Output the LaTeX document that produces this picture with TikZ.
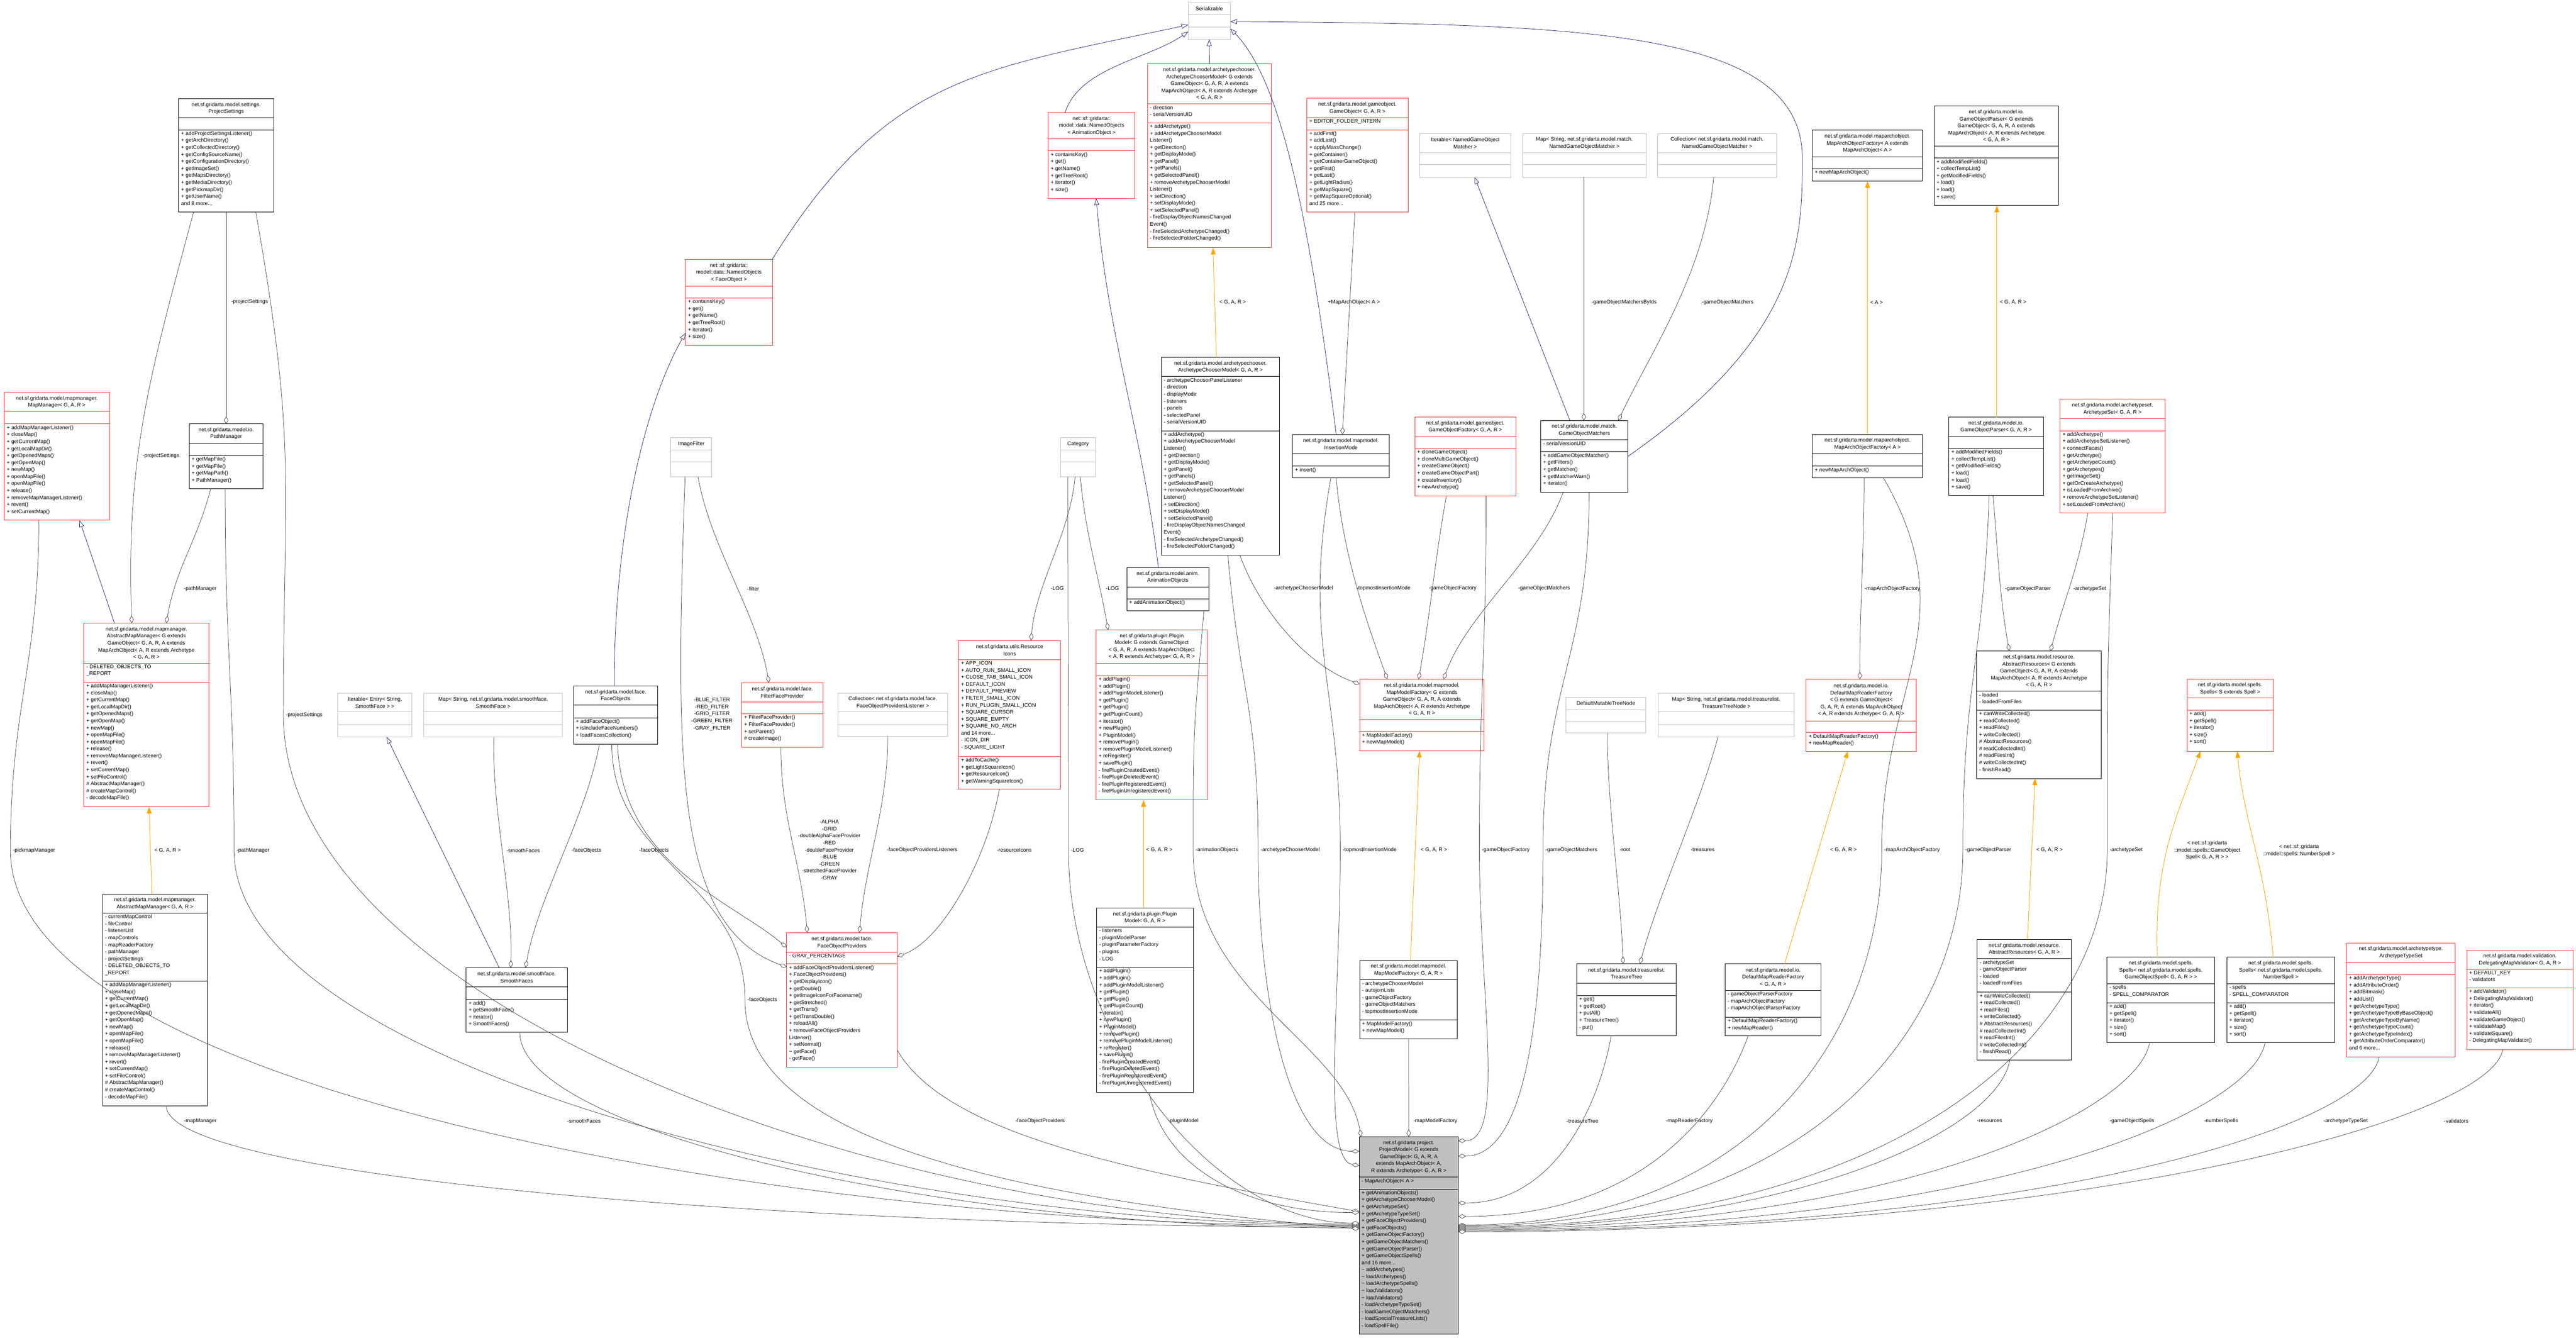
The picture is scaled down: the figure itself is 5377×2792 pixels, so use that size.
\documentclass[tikz,border=0pt]{standalone}
\usepackage{fontspec}
\setmainfont{Liberation Sans}
\usetikzlibrary{arrows.meta}
\definecolor{edg}{HTML}{404040}
\definecolor{navyb}{HTML}{191970}
\definecolor{orng}{HTML}{FFA500}
\definecolor{redl}{HTML}{FF3030}
\definecolor{grl}{HTML}{BFBFBF}
\definecolor{pmfill}{HTML}{BFBFBF}
\newcommand\fs{\fontsize{11}{14.6}\selectfont}
\tikzset{
 blk/.style={draw=black,line width=1pt,inner sep=0,outer sep=0},
 redb/.style={draw=redl,line width=1pt,inner sep=0,outer sep=0},
 grayb/.style={draw=grl,line width=1pt,inner sep=0,outer sep=0},
 pmb/.style={draw=black,fill=pmfill,line width=1pt,inner sep=0,outer sep=0},
 ttl/.style={font=\fs,align=center,inner sep=0},
 mem/.style={font=\fs,align=left,inner sep=1pt},
 lbl/.style={font=\fs,align=center,inner sep=1pt},
 agg/.style={draw=edg,line width=0.8pt,-{Diamond[open,length=16pt,width=9pt,fill=white]}},
 inh/.style={draw=navyb,line width=0.8pt,-{Triangle[open,length=14pt,width=10pt,fill=white]}},
 tmpl/.style={draw=orng,line width=1pt,-{Triangle[length=14pt,width=10pt,fill=orng]}},
}
\newcommand\uml[9]{%
 \node[#1,anchor=north west,minimum width={(#5-#3)*1pt},minimum height={(#6-#4)*1pt}] (#2) at (#3,#4) {};
 \draw[#1] (#3,#7) -- (#5,#7) (#3,#8) -- (#5,#8);
 \node[ttl] (#2-t) at ({(#3+#5)/2},{(#4+#7)/2}) {#9};
 \def\ux{#3}\def\uay{#8}\def\uty{#7}\def\uname{#2}}
\newcommand\attrs[1]{\node[mem,anchor=north west] (\uname-a) at (\ux+4,\uty+2) {#1};}
\newcommand\meths[1]{\node[mem,anchor=north west] (\uname-m) at (\ux+4,\uay+2) {#1};}
\begin{document}
\begin{tikzpicture}[x=1pt,y=-1pt]
\useasboundingbox[fill=white] (0,0) rectangle (5377,2792);

\uml{blk}{PS}{373}{206}{571}{443}{246}{271}{net.sf.gridarta.model.settings.\\ProjectSettings}
\meths{+ addProjectSettingsListener()\\+ getArchDirectory()\\+ getCollectedDirectory()\\+ getConfigSourceName()\\+ getConfigurationDirectory()\\+ getImageSet()\\+ getMapsDirectory()\\+ getMediaDirectory()\\+ getPickmapDir()\\+ getUserName()\\and 8 more...}

\uml{redb}{MM}{9}{819}{228}{1086}{859}{885}{net.sf.gridarta.model.mapmanager.\\MapManager< G, A, R >}
\meths{+ addMapManagerListener()\\+ closeMap()\\+ getCurrentMap()\\+ getLocalMapDir()\\+ getOpenedMaps()\\+ getOpenMap()\\+ newMap()\\+ openMapFile()\\+ openMapFile()\\+ release()\\+ removeMapManagerListener()\\+ revert()\\+ setCurrentMap()}

\uml{blk}{PathM}{395}{885}{549}{1020}{925}{951}{net.sf.gridarta.model.io.\\PathManager}
\meths{+ getMapFile()\\+ getMapFile()\\+ getMapPath()\\+ PathManager()}

\uml{redb}{NOF}{1431}{541}{1612}{721}{597}{622}{net::sf::gridarta::\\model::data::NamedObjects\\< FaceObject >}
\meths{+ containsKey()\\+ get()\\+ getName()\\+ getTreeRoot()\\+ iterator()\\+ size()}

\uml{grayb}{Ser}{2480}{6}{2568}{82}{31}{56}{Serializable}

\uml{redb}{NOA}{2188}{235}{2369}{414}{290}{315}{net::sf::gridarta::\\model::data::NamedObjects\\< AnimationObject >}
\meths{+ containsKey()\\+ get()\\+ getName()\\+ getTreeRoot()\\+ iterator()\\+ size()}

\uml{redb}{ACMx}{2395}{133}{2654}{517}{217}{256}{net.sf.gridarta.model.archetypechooser.\\ArchetypeChooserModel< G extends\\GameObject< G, A, R, A extends\\MapArchObject< A, R extends Archetype\\< G, A, R >}
\attrs{- direction\\- serialVersionUID}
\meths{+ addArchetype()\\+ addArchetypeChooserModel\\Listener()\\+ getDirection()\\+ getDisplayMode()\\+ getPanel()\\+ getPanels()\\+ getSelectedPanel()\\+ removeArchetypeChooserModel\\Listener()\\+ setDirection()\\+ setDisplayMode()\\+ setSelectedPanel()\\- fireDisplayObjectNamesChanged\\Event()\\- fireSelectedArchetypeChanged()\\- fireSelectedFolderChanged()}

\uml{redb}{GO}{2728}{205}{2939}{443}{246}{271}{net.sf.gridarta.model.gameobject.\\GameObject< G, A, R >}
\attrs{+ EDITOR\_FOLDER\_INTERN}
\meths{+ addFirst()\\+ addLast()\\+ applyMassChange()\\+ getContainer()\\+ getContainerGameObject()\\+ getFirst()\\+ getLast()\\+ getLightRadius()\\+ getMapSquare()\\+ getMapSquareOptional()\\and 25 more...}

\uml{blk}{ACMg}{2424}{746}{2671}{1159}{786}{899}{net.sf.gridarta.model.archetypechooser.\\ArchetypeChooserModel< G, A, R >}
\attrs{- archetypeChooserPanelListener\\- direction\\- displayMode\\- listeners\\- panels\\- selectedPanel\\- serialVersionUID}
\meths{+ addArchetype()\\+ addArchetypeChooserModel\\Listener()\\+ getDirection()\\+ getDisplayMode()\\+ getPanel()\\+ getPanels()\\+ getSelectedPanel()\\+ removeArchetypeChooserModel\\Listener()\\+ setDirection()\\+ setDisplayMode()\\+ setSelectedPanel()\\- fireDisplayObjectNamesChanged\\Event()\\- fireSelectedArchetypeChanged()\\- fireSelectedFolderChanged()}

\uml{blk}{IM}{2698}{907}{2900}{997}{947}{973}{net.sf.gridarta.model.mapmodel.\\InsertionMode}
\meths{+ insert()}

\uml{grayb}{IF}{1400}{914}{1486}{995}{939}{964}{ImageFilter}
\uml{grayb}{Cat}{2214}{914}{2287}{995}{939}{964}{Category}
\uml{grayb}{ItN}{2963}{279}{3154}{370}{319}{344}{Iterable< NamedGameObject\\Matcher >}
\uml{grayb}{MapN}{3178}{279}{3436}{370}{319}{344}{Map< String, net.sf.gridarta.model.match.\\NamedGameObjectMatcher >}
\uml{grayb}{ColN}{3460}{279}{3708}{370}{319}{344}{Collection< net.sf.gridarta.model.match.\\NamedGameObjectMatcher >}

\uml{blk}{MAOFx}{3783}{272}{4013}{378}{327}{352}{net.sf.gridarta.model.maparchobject.\\MapArchObjectFactory< A extends\\MapArchObject< A >}
\meths{+ newMapArchObject()}

\uml{blk}{GOPx}{4037}{221}{4297}{429}{305}{330}{net.sf.gridarta.model.io.\\GameObjectParser< G extends\\GameObject< G, A, R, A extends\\MapArchObject< A, R extends Archetype\\< G, A, R >}
\meths{+ addModifiedFields()\\+ collectTempList()\\+ getModifiedFields()\\+ load()\\+ load()\\+ save()}

\uml{redb}{GOF}{2953}{871}{3164}{1035}{911}{936}{net.sf.gridarta.model.gameobject.\\GameObjectFactory< G, A, R >}
\meths{+ cloneGameObject()\\+ cloneMultiGameObject()\\+ createGameObject()\\+ createGameObjectPart()\\+ createInventory()\\+ newArchetype()}

\uml{blk}{GOM}{3216}{878}{3398}{1027}{918}{943}{net.sf.gridarta.model.match.\\GameObjectMatchers}
\attrs{- serialVersionUID}
\meths{+ addGameObjectMatcher()\\+ getFilters()\\+ getMatcher()\\+ getMatcherWarn()\\+ iterator()}

\uml{blk}{MAOFg}{3783}{907}{4013}{997}{947}{973}{net.sf.gridarta.model.maparchobject.\\MapArchObjectFactory< A >}
\meths{+ newMapArchObject()}

\uml{blk}{GOPg}{4068}{871}{4265}{1034}{911}{936}{net.sf.gridarta.model.io.\\GameObjectParser< G, A, R >}
\meths{+ addModifiedFields()\\+ collectTempList()\\+ getModifiedFields()\\+ load()\\+ load()\\+ save()}

\uml{redb}{AS}{4300}{833}{4519}{1071}{874}{899}{net.sf.gridarta.model.archetypeset.\\ArchetypeSet< G, A, R >}
\meths{+ addArchetype()\\+ addArchetypeSetListener()\\+ connectFaces()\\+ getArchetype()\\+ getArchetypeCount()\\+ getArchetypes()\\+ getImageSet()\\+ getOrCreateArchetype()\\+ isLoadedFromArchive()\\+ removeArchetypeSetListener()\\+ setLoadedFromArchive()}

\uml{redb}{AMMx}{175}{1301}{436}{1684}{1384}{1424}{net.sf.gridarta.model.mapmanager.\\AbstractMapManager< G extends\\GameObject< G, A, R, A extends\\MapArchObject< A, R extends Archetype\\< G, A, R >}
\attrs{- DELETED\_OBJECTS\_TO\\\_REPORT}
\meths{+ addMapManagerListener()\\+ closeMap()\\+ getCurrentMap()\\+ getLocalMapDir()\\+ getOpenedMaps()\\+ getOpenMap()\\+ newMap()\\+ openMapFile()\\+ openMapFile()\\+ release()\\+ removeMapManagerListener()\\+ revert()\\+ setCurrentMap()\\+ setFileControl()\\\# AbstractMapManager()\\\# createMapControl()\\- decodeMapFile()}

\uml{blk}{AMMg}{214}{1866}{433}{2308}{1906}{2048}{net.sf.gridarta.model.mapmanager.\\AbstractMapManager< G, A, R >}
\attrs{- currentMapControl\\- fileControl\\- listenerList\\- mapControls\\- mapReaderFactory\\- pathManager\\- projectSettings\\- DELETED\_OBJECTS\_TO\\\_REPORT}
\meths{+ addMapManagerListener()\\+ closeMap()\\+ getCurrentMap()\\+ getLocalMapDir()\\+ getOpenedMaps()\\+ getOpenMap()\\+ newMap()\\+ openMapFile()\\+ openMapFile()\\+ release()\\+ removeMapManagerListener()\\+ revert()\\+ setCurrentMap()\\+ setFileControl()\\\# AbstractMapManager()\\\# createMapControl()\\- decodeMapFile()}

\uml{grayb}{IE}{705}{1447}{860}{1538}{1486}{1512}{Iterable< Entry< String,\\SmoothFace > >}
\uml{grayb}{MapSF}{885}{1447}{1174}{1538}{1486}{1512}{Map< String, net.sf.gridarta.model.smoothface.\\SmoothFace >}

\uml{blk}{FO}{1197}{1432}{1373}{1553}{1472}{1498}{net.sf.gridarta.model.face.\\FaceObjects}
\meths{+ addFaceObject()\\+ isIncludeFaceNumbers()\\+ loadFacesCollection()}

\uml{redb}{FFP}{1548}{1425}{1718}{1560}{1465}{1490}{net.sf.gridarta.model.face.\\FilterFaceProvider}
\meths{+ FilterFaceProvider()\\+ FilterFaceProvider()\\+ setParent()\\\# createImage()}

\uml{blk}{SF}{973}{2020}{1184}{2155}{2060}{2086}{net.sf.gridarta.model.smoothface.\\SmoothFaces}
\meths{+ add()\\+ getSmoothFace()\\+ iterator()\\+ SmoothFaces()}

\uml{redb}{FOP}{1642}{1947}{1873}{2228}{1988}{2012}{net.sf.gridarta.model.face.\\FaceObjectProviders}
\attrs{- GRAY\_PERCENTAGE}
\meths{+ addFaceObjectProvidersListener()\\+ FaceObjectProviders()\\+ getDisplayIcon()\\+ getDouble()\\+ getImageIconForFacename()\\+ getStretched()\\+ getTrans()\\+ getTransDouble()\\+ reloadAll()\\+ removeFaceObjectProviders\\Listener()\\+ setNormal()\\\textasciitilde{} getFace()\\- getFace()}

\uml{grayb}{ColF}{1749}{1447}{1978}{1537}{1486}{1512}{Collection< net.sf.gridarta.model.face.\\FaceObjectProvidersListener >}

\uml{redb}{RI}{2001}{1337}{2214}{1647}{1377}{1579}{net.sf.gridarta.utils.Resource\\Icons}
\attrs{+ APP\_ICON\\+ AUTO\_RUN\_SMALL\_ICON\\+ CLOSE\_TAB\_SMALL\_ICON\\+ DEFAULT\_ICON\\+ DEFAULT\_PREVIEW\\+ FILTER\_SMALL\_ICON\\+ RUN\_PLUGIN\_SMALL\_ICON\\+ SQUARE\_CURSOR\\+ SQUARE\_EMPTY\\+ SQUARE\_NO\_ARCH\\and 14 more...\\- ICON\_DIR\\- SQUARE\_LIGHT}
\meths{+ addToCache()\\+ getLightSquareIcon()\\+ getResourceIcon()\\+ getWarningSquareIcon()}

\uml{redb}{PMx}{2288}{1315}{2520}{1670}{1384}{1410}{net.sf.gridarta.plugin.Plugin\\Model< G extends GameObject\\< G, A, R, A extends MapArchObject\\< A, R extends Archetype< G, A, R >}
\meths{+ addPlugin()\\+ addPlugin()\\+ addPluginModelListener()\\+ getPlugin()\\+ getPlugin()\\+ getPluginCount()\\+ iterator()\\+ newPlugin()\\+ PluginModel()\\+ removePlugin()\\+ removePluginModelListener()\\+ reRegister()\\+ savePlugin()\\- firePluginCreatedEvent()\\- firePluginDeletedEvent()\\- firePluginRegisteredEvent()\\- firePluginUnregisteredEvent()}

\uml{blk}{AO}{2352}{1185}{2523}{1275}{1225}{1250}{net.sf.gridarta.model.anim.\\AnimationObjects}
\meths{+ addAnimationObject()}

\uml{redb}{MMFx}{2838}{1418}{3098}{1567}{1502}{1527}{net.sf.gridarta.model.mapmodel.\\MapModelFactory< G extends\\GameObject< G, A, R, A extends\\MapArchObject< A, R extends Archetype\\< G, A, R >}
\meths{+ MapModelFactory()\\+ newMapModel()}

\uml{grayb}{DMTN}{3269}{1455}{3435}{1530}{1481}{1506}{DefaultMutableTreeNode}
\uml{grayb}{MapT}{3461}{1447}{3745}{1538}{1486}{1512}{Map< String, net.sf.gridarta.model.treasurelist.\\TreasureTreeNode >}

\uml{blk}{PMg}{2289}{1895}{2491}{2280}{1935}{2019}{net.sf.gridarta.plugin.Plugin\\Model< G, A, R >}
\attrs{- listeners\\- pluginModelParser\\- pluginParameterFactory\\- plugins\\- LOG}
\meths{+ addPlugin()\\+ addPlugin()\\+ addPluginModelListener()\\+ getPlugin()\\+ getPlugin()\\+ getPluginCount()\\+ iterator()\\+ newPlugin()\\+ PluginModel()\\+ removePlugin()\\+ removePluginModelListener()\\+ reRegister()\\+ savePlugin()\\- firePluginCreatedEvent()\\- firePluginDeletedEvent()\\- firePluginRegisteredEvent()\\- firePluginUnregisteredEvent()}

\uml{blk}{MMFg}{2838}{2005}{3042}{2169}{2045}{2129}{net.sf.gridarta.model.mapmodel.\\MapModelFactory< G, A, R >}
\attrs{- archetypeChooserModel\\- autojoinLists\\- gameObjectFactory\\- gameObjectMatchers\\- topmostInsertionMode}
\meths{+ MapModelFactory()\\+ newMapModel()}

\uml{blk}{TT}{3291}{2012}{3499}{2162}{2052}{2078}{net.sf.gridarta.model.treasurelist.\\TreasureTree}
\meths{+ get()\\+ getRoot()\\+ putAll()\\+ TreasureTree()\\- put()}

\uml{pmb}{PM}{2837}{2373}{3044}{2785}{2457}{2482}{net.sf.gridarta.project.\\ProjectModel< G extends\\GameObject< G, A, R, A\\extends MapArchObject< A,\\R extends Archetype< G, A, R >}
\attrs{- MapArchObject< A >}
\meths{+ getAnimationObjects()\\+ getArchetypeChooserModel()\\+ getArchetypeSet()\\+ getArchetypeTypeSet()\\+ getFaceObjectProviders()\\+ getFaceObjects()\\+ getGameObjectFactory()\\+ getGameObjectMatchers()\\+ getGameObjectParser()\\+ getGameObjectSpells()\\and 16 more...\\\textasciitilde{} addArchetypes()\\\textasciitilde{} loadArchetypes()\\\textasciitilde{} loadArchetypeSpells()\\\textasciitilde{} loadValidators()\\\textasciitilde{} loadValidators()\\- loadArchetypeTypeSet()\\- loadGameObjectMatchers()\\- loadSpecialTreasureLists()\\- loadSpellFile()}

\uml{redb}{DMRFx}{3770}{1418}{4000}{1568}{1505}{1529}{net.sf.gridarta.model.io.\\DefaultMapReaderFactory\\< G extends GameObject<\\G, A, R, A extends MapArchObject\\< A, R extends Archetype< G, A, R >}
\meths{+ DefaultMapReaderFactory()\\+ newMapReader()}

\uml{blk}{ARx}{4126}{1359}{4386}{1625}{1443}{1482}{net.sf.gridarta.model.resource.\\AbstractResources< G extends\\GameObject< G, A, R, A extends\\MapArchObject< A, R extends Archetype\\< G, A, R >}
\attrs{- loaded\\- loadedFromFiles}
\meths{+ canWriteCollected()\\+ readCollected()\\+ readFiles()\\+ writeCollected()\\\# AbstractResources()\\\# readCollectedInt()\\\# readFilesInt()\\\# writeCollectedInt()\\- finishRead()}

\uml{redb}{Sp}{4565}{1418}{4745}{1568}{1457}{1482}{net.sf.gridarta.model.spells.\\Spells< S extends Spell >}
\meths{+ add()\\+ getSpell()\\+ iterator()\\+ size()\\+ sort()}

\uml{blk}{DMRFg}{3601}{2012}{3801}{2162}{2067}{2123}{net.sf.gridarta.model.io.\\DefaultMapReaderFactory\\< G, A, R >}
\attrs{- gameObjectParserFactory\\- mapArchObjectFactory\\- mapArchObjectParserFactory}
\meths{+ DefaultMapReaderFactory()\\+ newMapReader()}

\uml{blk}{ARg}{4127}{1961}{4324}{2213}{2001}{2071}{net.sf.gridarta.model.resource.\\AbstractResources< G, A, R >}
\attrs{- archetypeSet\\- gameObjectParser\\- loaded\\- loadedFromFiles}
\meths{+ canWriteCollected()\\+ readCollected()\\+ readFiles()\\+ writeCollected()\\\# AbstractResources()\\\# readCollectedInt()\\\# readFilesInt()\\\# writeCollectedInt()\\- finishRead()}

\uml{blk}{SpG}{4398}{1998}{4623}{2176}{2053}{2093}{net.sf.gridarta.model.spells.\\Spells< net.sf.gridarta.model.spells.\\GameObjectSpell< G, A, R > >}
\attrs{- spells\\- SPELL\_COMPARATOR}
\meths{+ add()\\+ getSpell()\\+ iterator()\\+ size()\\+ sort()}

\uml{blk}{SpN}{4648}{1998}{4873}{2176}{2053}{2093}{net.sf.gridarta.model.spells.\\Spells< net.sf.gridarta.model.spells.\\NumberSpell >}
\attrs{- spells\\- SPELL\_COMPARATOR}
\meths{+ add()\\+ getSpell()\\+ iterator()\\+ size()\\+ sort()}

\uml{redb}{ATS}{4898}{1968}{5125}{2206}{2009}{2034}{net.sf.gridarta.model.archetypetype.\\ArchetypeTypeSet}
\meths{+ addArchetypeType()\\+ addAttributeOrder()\\+ addBitmask()\\+ addList()\\+ getArchetypeType()\\+ getArchetypeTypeByBaseObject()\\+ getArchetypeTypeByName()\\+ getArchetypeTypeCount()\\+ getArchetypeTypeIndex()\\+ getAttributeOrderComparator()\\and 6 more...}

\uml{redb}{DMV}{5149}{1983}{5371}{2191}{2023}{2062}{net.sf.gridarta.model.validation.\\DelegatingMapValidator< G, A, R >}
\attrs{+ DEFAULT\_KEY\\- validators}
\meths{+ addValidator()\\+ DelegatingMapValidator()\\+ iterator()\\+ validateAll()\\+ validateGameObject()\\+ validateMap()\\+ validateSquare()\\- DelegatingMapValidator()}

% ---- labels
\node[lbl] (lPS1) at (521,630) {-projectSettings};
\node[lbl] (lPS2) at (336,952) {-projectSettings};
\node[lbl] (lPS3) at (635,1492) {-projectSettings};
\node[lbl] (lPath1) at (418,1229) {-pathManager};
\node[lbl] (lPath2) at (528,1775) {-pathManager};
\node[lbl] (lPick) at (71,1775) {-pickmapManager};
\node[lbl] (lAMM) at (350,1775) {< G, A, R >};
\node[lbl] (lMapM) at (418,2340) {-mapManager};
\node[lbl] (lFilter) at (1572,1229) {-filter};
\node[lbl] (lFilters) at (1486,1491) {-BLUE\_FILTER\\-RED\_FILTER\\-GRID\_FILTER\\-GREEN\_FILTER\\-GRAY\_FILTER};
\node[lbl] (lAlpha) at (1731,1774) {-ALPHA\\-GRID\\-doubleAlphaFaceProvider\\-RED\\-doubleFaceProvider\\-BLUE\\-GREEN\\-stretchedFaceProvider\\-GRAY};
\node[lbl] (lSF1) at (1092,1775) {-smoothFaces};
\node[lbl] (lFO1) at (1224,1775) {-faceObjects};
\node[lbl] (lFO2) at (1365,1775) {-faceObjects};
\node[lbl] (lFO3) at (1591,2087) {-faceObjects};
\node[lbl] (lSF2) at (1219,2340) {-smoothFaces};
\node[lbl] (lFOPL) at (1925,1774) {-faceObjectProvidersListeners};
\node[lbl] (lRI) at (2117,1774) {-resourceIcons};
\node[lbl] (lLOG1) at (2207,1228) {-LOG};
\node[lbl] (lLOG2) at (2322,1228) {-LOG};
\node[lbl] (lLOG3) at (2249,1774) {-LOG};
\node[lbl] (lPMt) at (2420,1774) {< G, A, R >};
\node[lbl] (lAO) at (2540,1774) {-animationObjects};
\node[lbl] (lACM1) at (2721,1228) {-archetypeChooserModel};
\node[lbl] (lACM2) at (2693,1774) {-archetypeChooserModel};
\node[lbl] (lTIM1) at (2888,1228) {-topmostInsertionMode};
\node[lbl] (lTIM2) at (2859,1774) {-topmostInsertionMode};
\node[lbl] (lMMFt) at (2993,1774) {< G, A, R >};
\node[lbl] (lGOF1) at (3032,1228) {-gameObjectFactory};
\node[lbl] (lGOF2) at (3143,1774) {-gameObjectFactory};
\node[lbl] (lGOM1) at (3223,1228) {-gameObjectMatchers};
\node[lbl] (lGOM2) at (3280,1774) {-gameObjectMatchers};
\node[lbl] (lRoot) at (3392,1774) {-root};
\node[lbl] (lTreas) at (3554,1774) {-treasures};
\node[lbl] (lACMt) at (2573,631) {< G, A, R >};
\node[lbl] (lMAO) at (2826,631) {+MapArchObject< A >};
\node[lbl] (lGOMB) at (3390,631) {-gameObjectMatchersByIds};
\node[lbl] (lGOM3) at (3606,631) {-gameObjectMatchers};
\node[lbl] (lMAOFt) at (3917,631) {< A >};
\node[lbl] (lGOPt) at (4202,631) {< G, A, R >};
\node[lbl] (lMAOF1) at (3950,1229) {-mapArchObjectFactory};
\node[lbl] (lGOP1) at (4233,1229) {-gameObjectParser};
\node[lbl] (lAS1) at (4362,1229) {-archetypeSet};
\node[lbl] (lDMRFt) at (3848,1774) {< G, A, R >};
\node[lbl] (lMAOF2) at (3991,1774) {-mapArchObjectFactory};
\node[lbl] (lGOP2) at (4150,1774) {-gameObjectParser};
\node[lbl] (lARt) at (4278,1774) {< G, A, R >};
\node[lbl] (lAS2) at (4438,1774) {-archetypeSet};
\node[lbl] (lSpG) at (4607,1775) {< net::sf::gridarta\\::model::spells::GameObject\\Spell< G, A, R > >};
\node[lbl] (lSpN) at (4799,1775) {< net::sf::gridarta\\::model::spells::NumberSpell >};
\node[lbl] (lFOP) at (2171,2340) {-faceObjectProviders};
\node[lbl] (lPlug) at (2470,2340) {-pluginModel};
\node[lbl] (lMMF) at (2996,2340) {-mapModelFactory};
\node[lbl] (lTT) at (3303,2340) {-treasureTree};
\node[lbl] (lMRF) at (3526,2340) {-mapReaderFactory};
\node[lbl] (lRes) at (4153,2340) {-resources};
\node[lbl] (lGOS) at (4450,2340) {-gameObjectSpells};
\node[lbl] (lNS) at (4636,2340) {-numberSpells};
\node[lbl] (lATS) at (4896,2340) {-archetypeTypeSet};
\node[lbl] (lVal) at (5127,2340) {-validators};
\coordinate (cg1) at (3762,330);

% ---- inheritance
\draw[inh] (NOF.north east) .. controls +(58:450pt) and +(192:450pt) .. ([yshift=-8pt]Ser.west);
\draw[inh] ([xshift=35pt]NOA.north west) .. controls +(72:100pt) and +(215:100pt) .. ([yshift=-22pt]Ser.west);
\draw[inh] (ACMx.north) -- (Ser.south);
\draw[inh] ([xshift=91pt]IM.north west) .. controls +(97:450pt) and +(-45:150pt) .. ([yshift=-16pt]Ser.east);
\draw[inh] (GOM.east) .. controls (3760,700) and (3762,500) .. (cg1) .. controls (3762,60) and (3300,50) .. ([yshift=-1pt]Ser.east);
\draw[inh] ([xshift=64pt]AMMx.north west) -- ([xshift=157pt]MM.south west);
\draw[inh] ([xshift=85pt]FO.north west) .. controls +(90:350pt) and +(240:150pt) .. ([yshift=-64pt]NOF.west);
\draw[inh] ([xshift=66pt]AO.north west) .. controls +(97:300pt) and +(-85:300pt) .. ([xshift=100pt]NOA.south west);
\draw[inh] ([xshift=69pt]SF.north west) -- ([xshift=102pt]IE.south west);
\draw[inh] ([xshift=61pt]GOM.north west) -- ([xshift=115pt]ItN.south west);

% ---- template instantiation
\draw[tmpl] ([xshift=103pt]AMMg.north west) -- ([xshift=136pt]AMMx.south west);
\draw[tmpl] ([xshift=115pt]ACMg.north west) -- ([xshift=137pt]ACMx.south west);
\draw[tmpl] ([xshift=98pt]PMg.north west) -- ([xshift=99pt]PMx.south west);
\draw[tmpl] ([xshift=106pt]MMFg.north west) -- ([xshift=125pt]MMFx.south west);
\draw[tmpl] (MAOFg.north) -- (MAOFx.south);
\draw[tmpl] ([xshift=100pt]GOPg.north west) -- ([xshift=131pt]GOPx.south west);
\draw[tmpl] ([xshift=124pt]DMRFg.north west) -- ([xshift=87pt]DMRFx.south west);
\draw[tmpl] ([xshift=105pt]ARg.north west) -- ([xshift=122pt]ARx.south west);
\draw[tmpl] ([xshift=105pt]SpG.north west) .. controls +(92:200pt) and +(-110:150pt) .. ([xshift=28pt]Sp.south west);
\draw[tmpl] ([xshift=97pt]SpN.north west) .. controls +(95:200pt) and +(-85:150pt) .. ([xshift=105pt]Sp.south west);

% ---- aggregation (non ProjectModel)
\draw[agg] (PS.south) -- (PathM.north);
\draw[agg] ([xshift=31pt]PS.south west) .. controls +(-105:350pt) and +(92:350pt) .. ([xshift=100pt]AMMx.north west);
\draw[agg] ([xshift=45pt]PathM.south west) .. controls +(-105:120pt) and +(80:120pt) .. ([xshift=172pt]AMMx.north west);
\draw[agg] ([xshift=57pt]IF.south west) .. controls +(-80:150pt) and +(100:150pt) .. ([xshift=57pt]FFP.north west);
\draw[agg] ([xshift=30pt]IF.south west) .. controls +(-92:600pt) and +(160:250pt) .. ([yshift=69pt]FOP.west);
\draw[agg] ([xshift=54pt]FO.south west) .. controls +(-100:150pt) and +(80:150pt) .. ([xshift=124pt]SF.north west);
\draw[agg] ([xshift=146pt]MapSF.south west) .. controls +(-92:150pt) and +(88:150pt) .. ([xshift=93pt]SF.north west);
\draw[agg] ([xshift=92pt]FO.south west) .. controls +(-88:250pt) and +(140:150pt) .. ([yshift=110pt]FOP.west);
\draw[agg] ([xshift=82pt]FFP.south west) .. controls +(-90:150pt) and +(95:150pt) .. ([xshift=43pt]FOP.north west);
\draw[agg] ([xshift=104pt]ColF.south west) .. controls +(-90:150pt) and +(85:150pt) .. ([xshift=152pt]FOP.north west);
\draw[agg] ([xshift=85pt]RI.south west) .. controls +(-100:150pt) and +(20:100pt) .. ([yshift=91pt]FOP.east);
\draw[agg] ([xshift=30pt]Cat.south west) .. controls +(-95:120pt) and +(85:120pt) .. ([xshift=151pt]RI.north west);
\draw[agg] ([xshift=41pt]Cat.south west) .. controls +(-85:120pt) and +(100:120pt) .. ([xshift=25pt]PMx.north west);
\draw[agg] ([xshift=164pt]ACMg.south west) .. controls +(-70:120pt) and +(160:120pt) .. ([yshift=-10pt]MMFx.north west);
\draw[agg] ([xshift=91pt]IM.south west) .. controls +(-85:150pt) and +(110:150pt) .. ([xshift=58pt]MMFx.north west);
\draw[agg] ([xshift=100pt]GO.south west) -- ([xshift=104pt]IM.north west);
\draw[agg] ([xshift=66pt]GOF.south west) .. controls +(-100:150pt) and +(80:150pt) .. ([xshift=123pt]MMFx.north west);
\draw[agg] ([xshift=47pt]GOM.south west) .. controls +(-110:150pt) and +(70:150pt) .. ([xshift=175pt]MMFx.north west);
\draw[agg] ([xshift=128pt]MapN.south west) -- ([xshift=90pt]GOM.north west);
\draw[agg] ([xshift=117pt]ColN.south west) .. controls +(-95:200pt) and +(65:150pt) .. ([xshift=162pt]GOM.north west);
\draw[agg] ([xshift=86pt]DMTN.south west) .. controls +(-90:150pt) and +(92:150pt) .. ([xshift=97pt]TT.north west);
\draw[agg] ([xshift=125pt]MapT.south west) .. controls +(-105:150pt) and +(75:150pt) .. ([xshift=132pt]TT.north west);
\draw[agg] ([xshift=108pt]MAOFg.south west) .. controls +(-90:150pt) and +(90:150pt) .. ([xshift=112pt]DMRFx.north west);
\draw[agg] ([xshift=92pt]GOPg.south west) .. controls +(-85:120pt) and +(100:120pt) .. ([xshift=68pt]ARx.north west);
\draw[agg] ([xshift=58pt]AS.south west) .. controls +(-100:120pt) and +(75:120pt) .. ([xshift=154pt]ARx.north west);

% ---- aggregation into ProjectModel
\draw[agg] ([xshift=72pt]MM.south west) .. controls +(-90:300pt) and +(90:300pt) .. ([xshift=-4pt]lPick.west) .. controls +(-90:500pt) and +(180:1200pt) .. ([yshift=20pt]PM.west);
\draw[agg] ([xshift=75pt]PathM.south west) .. controls +(-90:350pt) and +(90:350pt) .. ([xshift=-4pt]lPath2.west) .. controls +(-90:450pt) and +(180:1000pt) .. ([yshift=22pt]PM.west);
\draw[agg] ([xshift=161pt]PS.south west) .. controls +(-80:500pt) and +(90:500pt) .. ([xshift=-4pt]lPS3.west) .. controls +(-90:600pt) and +(180:1000pt) .. ([yshift=24pt]PM.west);
\draw[agg] ([xshift=133pt]AMMg.south west) .. controls +(-90:150pt) and +(180:1200pt) .. ([yshift=18pt]PM.west);
\draw[agg] ([xshift=112pt]SF.south west) .. controls +(-90:200pt) and +(180:900pt) .. ([yshift=16pt]PM.west);
\draw[agg] ([xshift=80pt]FO.south west) .. controls +(-90:250pt) and +(90:250pt) .. ([xshift=-4pt]lFO3.west) .. controls +(-90:300pt) and +(175:700pt) .. ([yshift=14pt]PM.west);
\draw[agg] ([yshift=36pt]FOP.south east) .. controls +(-60:200pt) and +(170:500pt) .. ([yshift=50pt]PM.west);
\draw[agg] ([xshift=15pt]Cat.south west) .. controls +(-90:350pt) and +(90:350pt) .. ([xshift=-4pt]lLOG3.west) .. controls +(-90:400pt) and +(180:300pt) .. ([yshift=26pt]PM.west);
\draw[agg] ([xshift=110pt]PMg.south west) .. controls +(-80:150pt) and +(180:250pt) .. ([yshift=48pt]PM.west);
\draw[agg] ([xshift=161pt]AO.south west) .. controls +(-95:250pt) and +(90:250pt) .. ([xshift=-4pt]lAO.west) .. controls +(-90:300pt) and +(100:200pt) .. ([xshift=4pt]PM.north west);
\draw[agg] ([xshift=139pt]ACMg.south west) .. controls +(-85:300pt) and +(90:300pt) .. ([xshift=-4pt]lACM2.west) .. controls +(-90:300pt) and +(180:150pt) .. ([yshift=-30pt]PM.north west);
\draw[agg] ([xshift=80pt]IM.south west) .. controls +(-100:350pt) and +(90:350pt) .. ([xshift=-4pt]lTIM2.west) .. controls +(-90:300pt) and +(170:80pt) .. ([yshift=-60pt]PM.north west);
\draw[agg] (MMFg.south) -- (PM.north);
\draw[agg] ([xshift=149pt]GOF.south west) .. controls +(-90:350pt) and +(90:350pt) .. ([xshift=-4pt]lGOF2.west) .. controls +(-90:300pt) and +(0:100pt) .. ([yshift=-8pt]PM.north east);
\draw[agg] ([xshift=101pt]GOM.south west) .. controls +(-90:350pt) and +(90:350pt) .. ([xshift=-4pt]lGOM2.west) .. controls +(-90:300pt) and +(0:150pt) .. ([yshift=-40pt]PM.north east);
\draw[agg] ([xshift=72pt]TT.south west) .. controls +(-100:150pt) and +(0:200pt) .. ([yshift=68pt]PM.east);
\draw[agg] ([xshift=48pt]DMRFg.south west) .. controls +(-110:150pt) and +(0:400pt) .. ([yshift=40pt]PM.east);
\draw[agg] ([xshift=148pt]MAOFg.south west) .. controls +(-60:350pt) and +(90:350pt) .. ([xshift=-4pt]lMAOF2.west) .. controls +(-90:400pt) and +(0:600pt) .. ([yshift=22pt]PM.east);
\draw[agg] ([xshift=84pt]GOPg.south west) .. controls +(-92:350pt) and +(90:350pt) .. ([xshift=-4pt]lGOP2.west) .. controls +(-90:400pt) and +(0:700pt) .. ([yshift=20pt]PM.east);
\draw[agg] ([xshift=110pt]AS.south west) .. controls +(-92:350pt) and +(90:350pt) .. ([xshift=-4pt]lAS2.west) .. controls +(-90:400pt) and +(0:900pt) .. ([yshift=18pt]PM.east);
\draw[agg] ([xshift=68pt]ARg.south west) .. controls +(-100:150pt) and +(0:700pt) .. ([yshift=16pt]PM.east);
\draw[agg] ([xshift=89pt]SpG.south west) .. controls +(-100:150pt) and +(0:900pt) .. ([yshift=14pt]PM.east);
\draw[agg] ([xshift=80pt]SpN.south west) .. controls +(-100:150pt) and +(0:1100pt) .. ([yshift=12pt]PM.east);
\draw[agg] ([xshift=68pt]ATS.south west) .. controls +(-100:150pt) and +(0:1200pt) .. ([yshift=10pt]PM.east);
\draw[agg] ([xshift=75pt]DMV.south west) .. controls +(-100:150pt) and +(0:1300pt) .. ([yshift=8pt]PM.east);
\end{tikzpicture}
\end{document}
